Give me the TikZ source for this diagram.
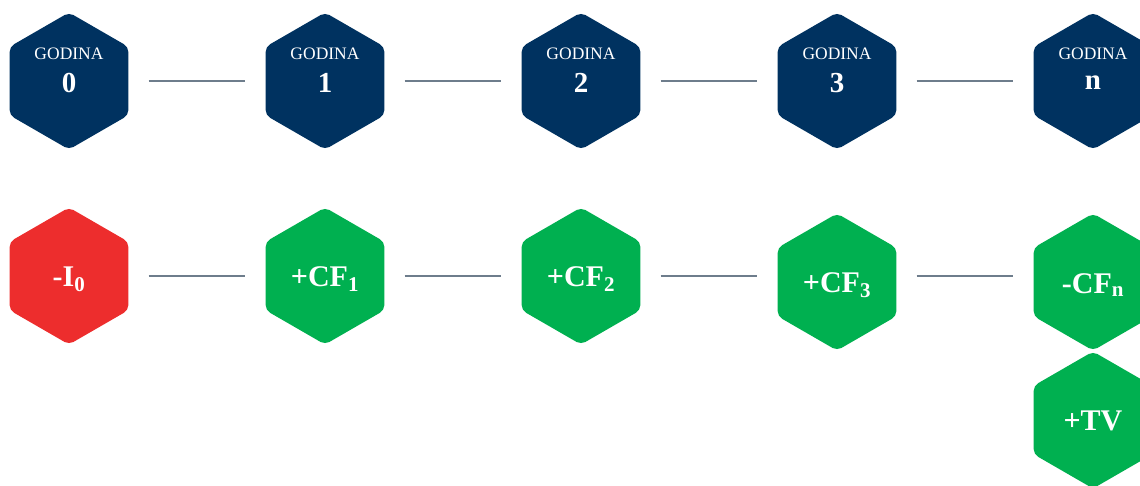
\documentclass[tikz,border=0pt]{standalone}
\usepackage{fontspec}
\setmainfont{Liberation Serif}
\usetikzlibrary{shapes.geometric,calc}
\definecolor{navy}{RGB}{0,50,96}
\definecolor{hexred}{RGB}{237,45,45}
\definecolor{hexgreen}{RGB}{0,176,80}
\definecolor{linegrey}{RGB}{110,125,140}
\tikzset{
  hex/.style={regular polygon, regular polygon sides=6, regular polygon rotate=30,
    minimum size=137pt, inner sep=0pt, rounded corners=5pt, draw=none},
  yearhex/.style={hex, fill=navy},
  redhex/.style={hex, fill=hexred},
  greenhex/.style={hex, fill=hexgreen},
  godina/.style={text=white, font=\fontsize{17.5}{17.5}\selectfont, inner sep=0pt},
  yearnum/.style={text=white, font=\fontsize{29}{29}\selectfont\bfseries, inner sep=0pt},
  cash/.style={text=white, font=\fontsize{30}{30}\selectfont\bfseries, inner sep=0pt},
  conn/.style={draw=linegrey, line width=1.1pt},
}
\begin{document}
\begin{tikzpicture}[x=1pt,y=-1pt]
\useasboundingbox (0,0) rectangle (1140,485);
% top row
\foreach \i/\x/\t in {0/69/0,1/325/1,2/581/2,3/837/3,4/1093/n}{
  \node[yearhex] (y\i) at (\x,81) {};
  \node[godina] (g\i) at (\x,54) {GODINA};
  \node[yearnum] (n\i) at (\x,83) {\t};
}
% bottom row
\node[redhex] (c0) at (69,276) {};
\node[cash] (t0) at (69,279) {-I\textsubscript{0}};
\node[greenhex] (c1) at (325,276) {};
\node[cash] (t1) at (325,279) {+CF\textsubscript{1}};
\node[greenhex] (c2) at (581,276) {};
\node[cash] (t2) at (581,279) {+CF\textsubscript{2}};
\node[greenhex] (c3) at (837,282) {};
\node[cash] (t3) at (837,285) {+CF\textsubscript{3}};
\node[greenhex] (c4) at (1093,282) {};
\node[cash] (t4) at (1093,285) {-CF\textsubscript{n}};
\node[greenhex] (c5) at (1093,420) {};
\node[cash] (t5) at (1093,421) {+TV};
% connectors
\foreach \a/\b in {0/1,1/2,2/3,3/4}{
  \draw[conn] ([xshift=20pt]y\a.east) -- ([xshift=-20pt]y\b.west);
  \draw[conn] ([xshift=20pt]c\a.east |- c0.center) -- ([xshift=-20pt]c\b.west |- c0.center);
}
\end{tikzpicture}
\end{document}
